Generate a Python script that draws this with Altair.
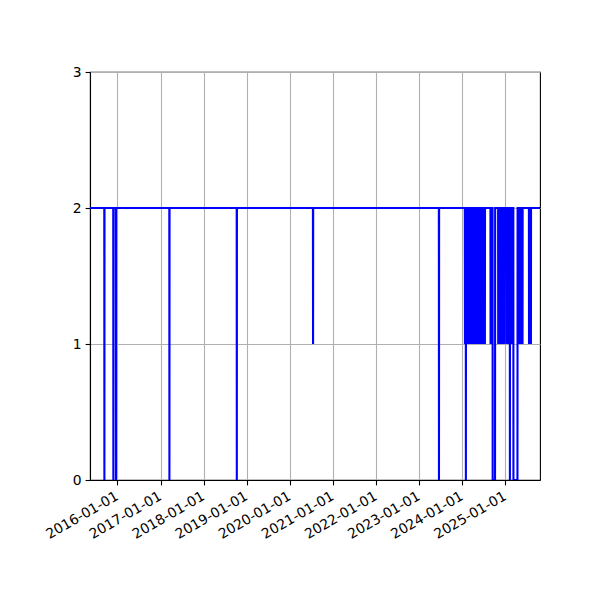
import pandas as pd
import altair as alt

# Series stays at 2; each event drops it to a lower level between start and end
SERIES_START = "2015-05-14"
SERIES_END = "2025-10-21"
BASE_LEVEL = 2

event_start = [
    "2015-09-13", "2015-11-28", "2015-12-20", "2017-03-17", "2018-10-09",
    "2020-07-16", "2023-06-18",
    "2024-01-24", "2024-01-29", "2024-02-01", "2024-02-05", "2024-02-10",
    "2024-02-15", "2024-02-20", "2024-02-25", "2024-03-01", "2024-03-06",
    "2024-03-11", "2024-03-16", "2024-03-21", "2024-03-26", "2024-03-31",
    "2024-04-05", "2024-04-10", "2024-04-15", "2024-04-20", "2024-04-25",
    "2024-04-30", "2024-05-05", "2024-05-10", "2024-05-15", "2024-05-20",
    "2024-05-25", "2024-05-30", "2024-06-04", "2024-06-09", "2024-06-13",
    "2024-06-27", "2024-07-11", "2024-08-28", "2024-09-15", "2024-11-01",
    "2024-11-15", "2024-11-30", "2024-12-12", "2024-12-24",
    "2025-01-12", "2025-01-26", "2025-02-08", "2025-02-21", "2025-03-10",
    "2025-04-24", "2025-05-08", "2025-05-26", "2025-07-20", "2025-08-05",
]
event_end = [
    "2015-09-13", "2015-11-28", "2015-12-20", "2017-03-17", "2018-10-09",
    "2020-07-16", "2023-06-18",
    "2024-01-24", "2024-01-29", "2024-02-01", "2024-02-05", "2024-02-10",
    "2024-02-15", "2024-02-20", "2024-02-25", "2024-03-01", "2024-03-06",
    "2024-03-11", "2024-03-16", "2024-03-21", "2024-03-26", "2024-03-31",
    "2024-04-05", "2024-04-10", "2024-04-15", "2024-04-20", "2024-04-25",
    "2024-04-30", "2024-05-05", "2024-05-10", "2024-05-15", "2024-05-20",
    "2024-05-25", "2024-05-30", "2024-06-04", "2024-06-09", "2024-06-13",
    "2024-06-27", "2024-07-11", "2024-08-28", "2024-10-05", "2024-11-01",
    "2024-11-15", "2024-11-30", "2024-12-12", "2024-12-24",
    "2025-01-12", "2025-01-26", "2025-02-08", "2025-02-21", "2025-04-13",
    "2025-04-24", "2025-05-08", "2025-05-26", "2025-07-20", "2025-08-05",
]
event_value = [
    0, 0, 0, 0, 0,
    1, 0,
    1, 1, 0, 1, 1,
    1, 1, 1, 1, 1,
    1, 1, 1, 1, 1,
    1, 1, 1, 1, 1,
    1, 1, 1, 1, 1,
    1, 1, 1, 1, 1,
    1, 1, 1, 0, 1,
    1, 1, 1, 1,
    1, 1, 0, 1, 0,
    1, 1, 1, 1, 1,
]

year_ticks = list(range(2016, 2026))
y_ticks = [0, 1, 2, 3]

# daily series: one day before/after each event sits back at the base level
day = pd.Timedelta(days=1)
rows = [(pd.Timestamp(SERIES_START), BASE_LEVEL)]
for s, e, v in sorted(zip(event_start, event_end, event_value)):
    s, e = pd.Timestamp(s), pd.Timestamp(e)
    rows += [(s - day, BASE_LEVEL), (s, v), (e, v), (e + day, BASE_LEVEL)]
rows.append((pd.Timestamp(SERIES_END), BASE_LEVEL))
df = pd.DataFrame(rows, columns=["date", "value"])
df["date"] = df["date"].dt.strftime("%Y-%m-%d")
df["order"] = range(len(df))

FONT = "DejaVu Sans"
GRID = "#b0b0b0"

chart = alt.Chart(df).mark_line(color="#0000ff", strokeWidth=2.1, clip=True).encode(
    x=alt.X("date:T", title=None,
            scale=alt.Scale(type="utc",
                            domain=[alt.DateTime(year=2015, month=5, date=14, utc=True),
                                    alt.DateTime(year=2025, month=10, date=21, utc=True)]),
            axis=alt.Axis(values=[alt.DateTime(year=y, month=1, date=1, utc=True) for y in year_ticks],
                          format="%Y-%m-%d", labelAngle=330, labelAlign="right",
                          labelBaseline="top", labelOffset=-4, labelPadding=4,
                          labelOverlap=False, labelBound=False)),
    y=alt.Y("value:Q", title=None,
            scale=alt.Scale(domain=[0, 3], nice=False, zero=False),
            axis=alt.Axis(values=y_ticks, format="d", labelPadding=4)),
    order="order:Q",
).properties(
    width=450, height=408,
    autosize=alt.AutoSizeParams(type="none"),
    padding={"left": 82, "top": 64, "right": 52, "bottom": 104},
    background="white",
).configure_axis(
    labelFont=FONT, labelFontSize=13.9, labelColor="black",
    domainColor="black", domainWidth=1.1,
    tickColor="black", tickSize=4.9, tickWidth=1.1,
    grid=True, gridColor=GRID, gridWidth=1.1,
).configure_view(
    stroke="black", strokeWidth=1.1,
)

chart.save("out.html", embed_options={"renderer": "svg", "actions": False})
